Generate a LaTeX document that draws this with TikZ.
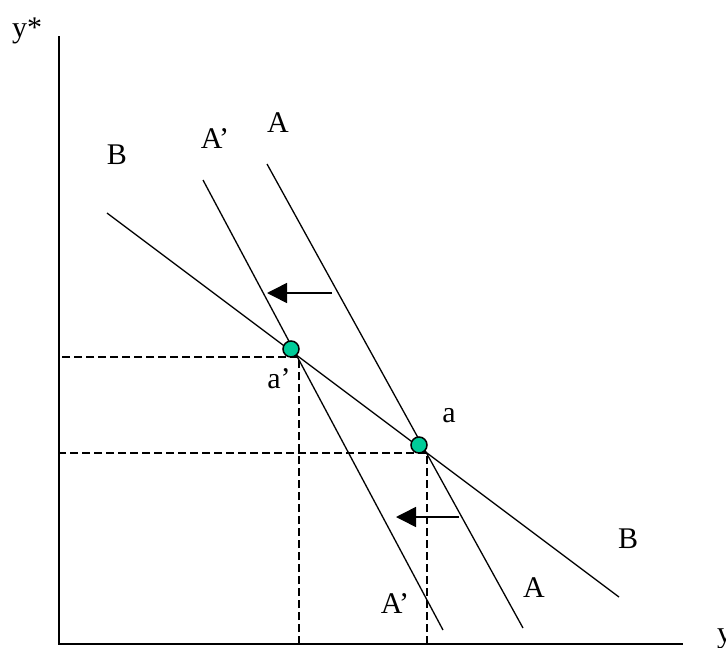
\documentclass[tikz,border=0pt]{standalone}
\usepackage{fontspec}
\setmainfont{Liberation Serif}
\usetikzlibrary{arrows.meta}
\definecolor{dotgreen}{RGB}{0,204,153}

\begin{document}
\begin{tikzpicture}[x=1pt, y=-1pt,
  every node/.style={font=\fontsize{30}{36}\selectfont, inner sep=0pt},
  lbl/.style={anchor=base},
  sched/.style={line width=1.3pt},
  axisline/.style={line width=2pt},
  guide/.style={line width=1.5pt, dash pattern=on 8pt off 4pt},
  shiftarrow/.style={line width=1.5pt, -{Triangle[length=20pt,width=20pt]}},
  dot/.style={circle, draw, line width=1.5pt, fill=dotgreen, minimum size=16pt}
]
\useasboundingbox (0,0) rectangle (726,648);

% axes
\coordinate (O) at (59,644);
\coordinate (ytop) at (59,36);
\coordinate (xend) at (683,644);
\draw[axisline] (ytop) -- (O) -- (xend);
\node[anchor=base west] (ystar) at (12,37) {y*};
\node[anchor=base west] (ylab) at (717,642) {y};

% schedules
\coordinate (B1) at (107,213);
\coordinate (B2) at (619,597);
\coordinate (A1) at (267,164);
\coordinate (A2) at (523,628);
\coordinate (Ap1) at (203,180);
\coordinate (Ap2) at (443,630);
\draw[sched] (B1) -- (B2);
\draw[sched] (A1) -- (A2);
\draw[sched] (Ap1) -- (Ap2);

\node[lbl] (labB1) at (117,164) {B};
\node[lbl] (labAp1) at (215,148) {A’};
\node[lbl] (labA1) at (278,132) {A};
\node[lbl] (labB2) at (628,548) {B};
\node[lbl] (labA2) at (534,597) {A};
\node[lbl] (labAp2) at (395,613) {A’};

% equilibria
\coordinate (ka) at (299,357);
\coordinate (kb) at (427,453);
\draw[guide] (O -| ka) -- (ka) -- (O |- ka);
\draw[guide] (O -| kb) -- (kb) -- (O |- kb);
\node[dot] (eqap) at (291,349) {};
\node[dot] (eqa) at (419,445) {};
\node[lbl] (labap) at (279,388) {a’};
\node[lbl] (laba) at (449,422) {a};

% shift of A to A'
\coordinate (s1) at (332,293);
\coordinate (t1) at (267,293);
\coordinate (s2) at (459,517);
\coordinate (t2) at (396,517);
\draw[shiftarrow] (s1) -- (t1);
\draw[shiftarrow] (s2) -- (t2);
\end{tikzpicture}
\end{document}
